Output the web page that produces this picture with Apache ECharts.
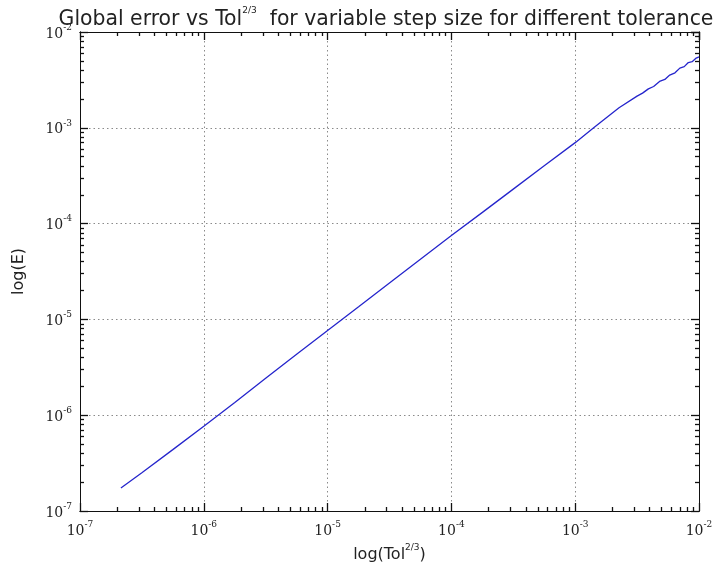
<!DOCTYPE html>
<html><head><meta charset="utf-8">
<script src="https://cdn.jsdelivr.net/npm/echarts@6/dist/echarts.min.js"></script>
<style>html,body{margin:0;padding:0;background:#fff}#c{width:718px;height:572px}</style>
</head><body><div id="c"></div>
<script>
// Data (Tol^(2/3), global error)
const tol = [2.14e-7, 3.16e-7, 5.62e-7, 1.0e-6, 1.78e-6, 3.16e-6, 5.62e-6, 1.0e-5, 1.78e-5, 3.16e-5, 5.62e-5, 1.0e-4, 1.78e-4, 3.16e-4, 5.62e-4, 1.0e-3, 1.41e-3, 2.26e-3, 3.16e-3, 3.5e-3, 3.9e-3, 4.3e-3, 4.8e-3, 5.3e-3, 5.8e-3, 6.4e-3, 7.0e-3, 7.6e-3, 8.2e-3, 8.8e-3, 9.4e-3, 9.75e-3, 1.0e-2];
const err = [1.74e-7, 2.51e-7, 4.37e-7, 7.67e-7, 1.36e-6, 2.43e-6, 4.32e-6, 7.67e-6, 1.355e-5, 2.40e-5, 4.24e-5, 7.50e-5, 1.31e-4, 2.29e-4, 4.01e-4, 7.0e-4, 1.0e-3, 1.62e-3, 2.14e-3, 2.3e-3, 2.55e-3, 2.7e-3, 3.05e-3, 3.2e-3, 3.55e-3, 3.75e-3, 4.2e-3, 4.35e-3, 4.8e-3, 4.9e-3, 5.3e-3, 5.2e-3, 5.5e-3];
const xTickLabels = ['-7', '-6', '-5', '-4', '-3', '-2'];
const yTickLabels = ['-7', '-6', '-5', '-4', '-3', '-2'];

// minor tick positions (in decade exponent space) for the tick-only axes
const minorTicks = [];
for (let k = -7; k < -2; k++) for (let m = 2; m <= 9; m++) minorTicks.push(k + Math.log10(m));

const chart = echarts.init(document.getElementById('c'));
function rich() {
  return {
    b: {fontFamily: 'DejaVu Serif', fontSize: 14, color: '#222', lineHeight: 18, verticalAlign: 'bottom'},
    s: {fontFamily: 'DejaVu Serif', fontSize: 9, color: '#222', lineHeight: 18, verticalAlign: 'top', padding: [0, 0, 8, 0]}
  };
}
function lab(labels) {
  return function (v) {
    const e = Math.round(Math.log10(v));
    const s = labels.find(t => +t === e) || String(e);
    return '{b|10}{s|' + s + '}';
  };
}
function LS(w) { return {color: '#111', width: w}; }
function majorAxis(extra) {
  return Object.assign({type: 'log', logBase: 10, min: 1e-7, max: 1e-2, interval: 1,
    axisLine: {show: true, lineStyle: LS(1)},
    axisTick: {show: true, inside: true, length: 8, lineStyle: LS(1.3)},
    splitLine: {show: false}, axisLabel: {show: false}}, extra);
}
function minorAxis(extra) {
  return Object.assign({type: 'value', min: -7, max: -2, interval: 1,
    axisLine: {show: true, lineStyle: LS(1)},
    axisTick: {show: true, inside: true, length: 4, customValues: minorTicks, lineStyle: LS(1.3)},
    splitLine: {show: false}, axisLabel: {show: false}}, extra);
}
function gridLine() { return {show: true, lineStyle: {color: '#8a8a8a', type: [1.5, 3], width: 1}}; }

chart.setOption({
  animation: false,
  backgroundColor: '#fff',
  title: {
    text: '{a|Global error vs Tol}{s|2/3}{a|  for variable step size for different tolerance}',
    left: 381, textAlign: 'center', top: 1,
    textStyle: {fontWeight: 'normal', rich: {
      a: {fontFamily: 'DejaVu Sans', fontSize: 20.4, fontWeight: 'normal', color: '#222', lineHeight: 24, verticalAlign: 'bottom'},
      s: {fontFamily: 'DejaVu Sans', fontSize: 9, fontWeight: 'normal', color: '#222', lineHeight: 24, verticalAlign: 'top', padding: [0, 0, 11, 0]}
    }}
  },
  grid: {left: 80, right: 19, top: 32, bottom: 61},
  xAxis: [
    majorAxis({position: 'bottom', splitLine: gridLine(),
      axisLabel: {show: true, margin: 9, formatter: lab(xTickLabels), rich: rich()},
      name: '{b|log(Tol}{s|2/3}{b|)}', nameLocation: 'middle', nameGap: 27,
      nameTextStyle: {rich: {
        b: {fontFamily: 'DejaVu Sans', fontSize: 16, color: '#222', lineHeight: 20, verticalAlign: 'bottom'},
        s: {fontFamily: 'DejaVu Sans', fontSize: 9, color: '#222', lineHeight: 20, verticalAlign: 'top', padding: [0, 0, 9, 0]}
      }}}),
    minorAxis({position: 'bottom'}),
    majorAxis({position: 'top'}),
    minorAxis({position: 'top'})
  ],
  yAxis: [
    majorAxis({position: 'left', splitLine: gridLine(),
      axisLabel: {show: true, margin: 8, formatter: lab(yTickLabels), rich: rich()},
      name: 'log(E)', nameLocation: 'middle', nameGap: 53,
      nameTextStyle: {fontFamily: 'DejaVu Sans', fontSize: 16, color: '#222'}}),
    minorAxis({position: 'left'}),
    majorAxis({position: 'right'}),
    minorAxis({position: 'right'})
  ],
  series: [{
    type: 'line', xAxisIndex: 0, yAxisIndex: 0,
    data: tol.map((t, i) => [t, err[i]]),
    showSymbol: false, symbol: 'none',
    lineStyle: {color: '#2525cc', width: 1.3},
    silent: true
  }]
});
</script></body></html>
